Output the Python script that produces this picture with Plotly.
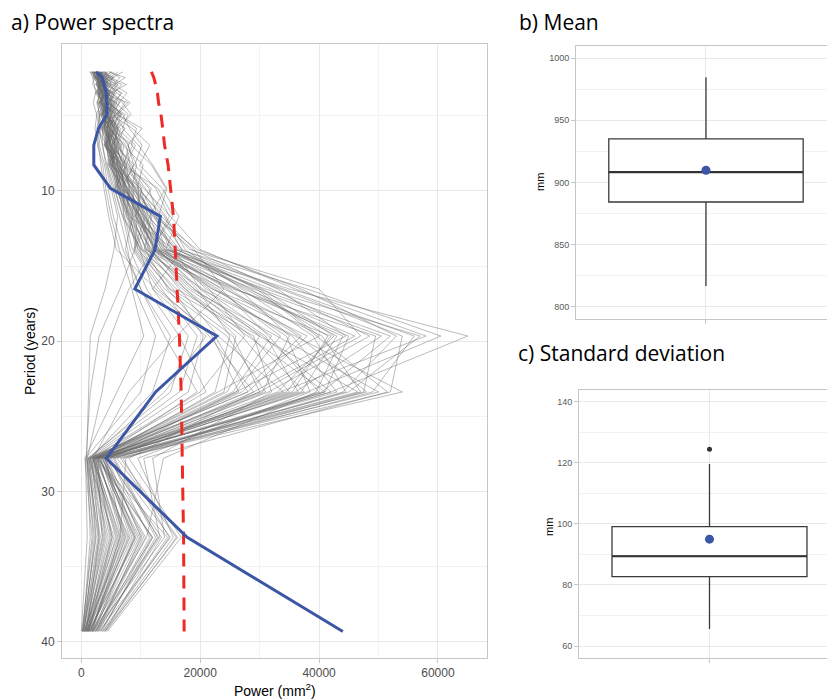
import plotly.graph_objects as go

# ---------------- data ----------------
periods = [2.07, 2.46, 2.92, 3.48, 4.13, 4.91, 5.84, 6.95, 8.27, 9.83,
           11.69, 13.9, 16.53, 19.66, 23.38, 27.8, 33.06, 39.32]

# observed global power spectrum (mm^2)
observed_power = [2500, 3500, 3800, 4200, 4300, 4300, 2900, 2100, 2100, 4900,
                  13300, 12400, 9000, 22800, 12500, 4200, 17800, 44000]

# significance level (mm^2)
signif_power = [11800, 12200, 12500, 12800, 13000, 13400, 13700, 14000, 14600, 15000,
                15500, 15800, 16100, 16500, 16800, 17000, 17200, 17300]

# ensemble spectra, values in thousands of mm^2
ensemble_k = [
    [2.2, 3.1, 4.0, 3.5, 5.2, 4.1, 6.0, 5.5, 7.2, 8.0, 10.5, 14.0, 35.0, 65.0, 42.0, 3.2, 9.5, 1.2],
    [3.5, 2.8, 3.9, 4.8, 3.6, 5.5, 4.9, 6.8, 6.1, 9.2, 12.0, 16.5, 38.0, 60.5, 38.0, 2.5, 12.0, 2.1],
    [1.8, 2.5, 3.0, 2.7, 4.4, 3.8, 5.1, 4.2, 6.5, 7.4, 9.8, 13.2, 31.0, 57.0, 45.0, 4.1, 7.0, 0.8],
    [4.2, 3.6, 5.0, 4.1, 3.3, 6.2, 5.4, 7.9, 8.8, 7.0, 11.4, 15.8, 33.5, 54.0, 52.0, 5.0, 15.0, 3.0],
    [2.9, 4.4, 3.2, 5.6, 4.7, 3.9, 6.6, 5.8, 7.0, 10.2, 9.1, 12.5, 29.0, 50.5, 36.0, 2.0, 6.0, 0.5],
    [3.1, 2.3, 4.6, 3.4, 5.9, 4.6, 3.8, 6.1, 5.3, 8.6, 13.0, 18.2, 40.0, 47.0, 30.0, 1.5, 4.5, 1.0],
    [2.0, 3.7, 2.6, 4.0, 3.1, 5.0, 4.4, 3.9, 6.7, 7.1, 8.5, 11.0, 26.0, 45.0, 41.0, 3.5, 10.5, 2.4],
    [5.1, 4.0, 3.4, 2.9, 4.8, 3.6, 5.7, 4.6, 5.0, 6.3, 10.1, 14.5, 30.5, 42.5, 33.0, 2.8, 3.5, 0.3],
    [2.6, 3.0, 4.9, 3.8, 2.9, 4.5, 3.7, 5.9, 4.8, 9.5, 11.8, 10.6, 24.0, 40.5, 47.0, 4.6, 13.0, 1.8],
    [3.8, 5.3, 3.5, 4.3, 6.0, 5.1, 4.2, 5.0, 7.6, 8.1, 7.5, 12.0, 22.0, 38.0, 28.0, 1.2, 5.5, 0.9],
    [2.4, 3.3, 2.8, 3.9, 4.5, 3.4, 4.8, 4.0, 5.6, 6.8, 9.0, 12.8, 20.0, 36.0, 54.0, 6.0, 16.0, 4.2],
    [3.0, 2.6, 3.7, 3.1, 4.0, 5.3, 4.1, 6.3, 5.1, 7.9, 10.4, 11.5, 18.5, 33.0, 50.0, 4.8, 11.5, 2.6],
    [1.6, 2.9, 3.3, 4.6, 3.5, 4.2, 5.5, 4.7, 6.9, 6.0, 8.2, 9.5, 16.0, 30.0, 46.5, 3.9, 8.5, 1.4],
    [4.5, 3.4, 4.1, 3.3, 5.4, 4.4, 3.6, 5.2, 6.2, 9.9, 12.6, 14.0, 21.0, 35.5, 43.0, 2.6, 14.5, 3.6],
    [2.7, 4.1, 3.0, 5.0, 3.9, 6.4, 5.0, 4.5, 5.7, 7.3, 9.6, 13.6, 23.5, 31.5, 40.0, 7.5, 6.5, 1.1],
    [3.3, 2.4, 4.4, 3.6, 4.3, 3.7, 4.6, 7.2, 6.4, 8.4, 10.9, 12.2, 19.0, 28.5, 37.5, 3.0, 9.8, 2.0],
    [2.1, 3.2, 2.5, 3.5, 5.0, 4.8, 6.2, 5.4, 4.7, 5.8, 7.8, 10.4, 17.0, 27.0, 35.0, 2.2, 4.0, 0.6],
    [3.9, 4.6, 3.8, 2.8, 3.8, 5.7, 4.3, 4.9, 7.9, 10.8, 14.2, 17.5, 27.0, 39.0, 44.5, 5.4, 12.5, 3.3],
    [2.8, 3.5, 4.3, 3.7, 3.0, 4.0, 5.3, 4.3, 5.4, 6.6, 8.8, 11.7, 17.5, 26.0, 24.0, 1.8, 3.0, 0.4],
    [1.9, 2.7, 3.6, 4.4, 4.9, 3.3, 4.0, 5.6, 6.0, 7.7, 9.4, 9.0, 14.0, 24.5, 31.0, 3.3, 7.5, 1.6],
    [3.6, 3.0, 2.7, 3.2, 4.2, 4.9, 3.5, 4.1, 4.9, 6.1, 7.2, 8.6, 13.0, 22.0, 26.5, 2.4, 5.2, 1.3],
    [2.5, 3.9, 3.1, 4.2, 3.4, 4.3, 5.8, 5.1, 4.4, 5.5, 6.9, 10.0, 15.5, 20.5, 18.0, 1.4, 2.5, 0.2],
    [4.0, 2.2, 3.4, 2.6, 3.7, 4.7, 4.5, 3.8, 5.9, 8.9, 11.0, 13.0, 19.5, 25.0, 22.5, 2.9, 6.8, 1.9],
    [2.3, 3.4, 4.7, 3.0, 4.1, 3.5, 4.9, 6.5, 7.4, 6.4, 8.0, 9.8, 12.0, 18.0, 15.0, 1.0, 2.0, 0.1],
    [3.2, 2.9, 3.3, 5.2, 4.6, 6.0, 4.7, 5.3, 5.5, 7.5, 10.0, 11.2, 16.5, 23.0, 34.0, 4.4, 10.0, 2.8],
    [2.0, 2.6, 2.9, 3.6, 3.2, 3.9, 4.1, 4.8, 6.6, 5.6, 7.0, 8.2, 11.0, 16.5, 21.0, 1.7, 4.8, 0.7],
    [2.6, 3.8, 4.5, 5.9, 4.4, 7.0, 8.1, 10.2, 9.0, 12.5, 14.8, 12.0, 8.0, 5.0, 3.5, 1.0, 1.5, 0.3],
    [3.4, 4.8, 6.2, 5.1, 7.3, 6.0, 9.3, 8.4, 11.8, 14.2, 11.5, 9.0, 6.5, 3.0, 1.5, 0.8, 2.2, 0.5],
    [2.2, 2.0, 3.0, 3.4, 2.6, 3.1, 2.9, 3.6, 4.1, 5.0, 6.1, 5.5, 4.0, 1.5, 1.2, 0.9, 3.0, 0.9],
    [4.8, 6.5, 5.4, 7.7, 6.3, 5.5, 7.2, 6.0, 8.5, 9.7, 13.5, 19.0, 24.0, 16.0, 8.0, 2.0, 4.2, 1.0],
    [2.9, 3.1, 2.4, 3.8, 4.2, 3.2, 4.4, 5.7, 5.2, 6.9, 8.7, 10.8, 14.5, 21.5, 29.0, 8.0, 16.8, 4.4],
    [3.7, 2.5, 3.5, 2.9, 3.6, 4.1, 3.9, 4.4, 6.3, 7.6, 9.3, 12.4, 22.5, 34.5, 38.5, 9.5, 15.5, 3.9],
    [1.7, 2.3, 3.2, 4.0, 5.5, 4.5, 5.6, 4.0, 5.8, 6.2, 7.9, 9.2, 15.0, 29.0, 32.0, 12.0, 14.0, 2.3],
    [3.0, 4.3, 3.9, 3.1, 2.7, 3.7, 4.6, 6.0, 4.6, 7.0, 10.7, 13.8, 26.0, 44.0, 39.5, 13.8, 11.0, 1.7],
    [2.4, 2.8, 4.1, 4.5, 3.8, 5.2, 3.7, 4.6, 5.8, 8.3, 9.7, 12.9, 25.0, 37.0, 27.0, 2.3, 8.0, 1.5],
    [3.3, 3.7, 2.8, 3.5, 4.4, 3.5, 5.1, 5.7, 7.1, 9.0, 12.3, 15.0, 28.5, 41.5, 35.5, 3.6, 9.0, 2.2],
    [2.1, 2.9, 3.4, 4.9, 3.7, 4.4, 3.4, 4.5, 5.6, 6.5, 8.4, 10.2, 20.5, 32.0, 25.5, 1.9, 6.2, 1.2],
    [4.3, 3.3, 3.6, 4.0, 4.8, 6.6, 5.2, 6.4, 5.9, 7.8, 10.3, 14.8, 32.0, 48.5, 31.5, 2.7, 7.2, 0.9],
    [2.5, 4.0, 3.1, 2.8, 3.5, 4.0, 4.7, 4.2, 6.0, 6.7, 9.2, 11.4, 18.0, 30.5, 42.0, 3.4, 10.8, 2.5],
    [3.0, 2.7, 3.8, 4.3, 4.0, 3.4, 4.3, 5.0, 5.3, 7.2, 9.5, 12.6, 21.5, 27.5, 20.0, 1.6, 3.8, 0.8],
    [1.9, 3.5, 2.9, 3.3, 4.6, 4.2, 3.9, 4.8, 6.8, 8.2, 11.6, 13.4, 24.5, 36.5, 48.0, 4.2, 9.2, 1.4],
    [3.6, 3.1, 4.5, 3.9, 3.3, 4.8, 6.1, 5.5, 6.3, 9.1, 10.6, 16.0, 30.0, 52.0, 40.5, 3.1, 8.8, 2.0],
    [2.7, 2.5, 3.3, 4.7, 4.1, 3.6, 4.8, 4.1, 5.0, 6.0, 7.6, 9.6, 14.8, 25.5, 30.0, 2.0, 5.8, 1.1],
    [4.1, 4.9, 4.0, 3.4, 5.7, 5.0, 4.4, 7.5, 8.2, 11.4, 12.8, 15.2, 27.5, 43.0, 37.0, 3.8, 11.8, 2.9],
    [2.3, 3.6, 2.7, 3.9, 3.2, 4.6, 5.0, 4.4, 5.2, 6.4, 8.3, 11.0, 19.0, 31.0, 36.5, 2.5, 7.8, 1.7],
    [3.1, 4.2, 5.1, 6.6, 5.8, 7.9, 6.9, 9.6, 12.0, 14.4, 13.0, 17.0, 12.0, 21.0, 14.0, 1.3, 3.2, 0.6],
    [2.8, 2.1, 3.0, 2.5, 3.9, 2.8, 3.3, 3.0, 3.9, 4.5, 5.4, 7.0, 10.0, 14.0, 19.5, 2.8, 12.0, 3.5],
    [5.5, 4.5, 6.8, 5.5, 4.9, 6.7, 5.9, 8.0, 7.2, 10.5, 15.0, 20.0, 36.0, 58.0, 33.5, 4.5, 13.5, 4.0],
    [2.0, 2.4, 2.6, 3.0, 2.8, 3.0, 3.6, 3.5, 4.3, 5.3, 6.5, 7.8, 9.0, 12.5, 10.0, 0.7, 1.0, 0.0],
    [3.5, 3.0, 3.9, 4.1, 5.1, 4.3, 5.4, 4.7, 6.1, 7.4, 9.9, 12.1, 23.0, 33.5, 26.0, 2.1, 6.6, 1.3],
    [6.2, 4.8, 7.6, 5.0, 6.9, 8.4, 6.0, 9.1, 7.5, 11.8, 9.0, 14.5, 28.0, 46.0, 29.0, 3.0, 9.0, 1.9],
    [1.5, 1.9, 2.2, 2.4, 2.0, 2.6, 2.3, 2.9, 3.3, 3.8, 4.6, 5.9, 12.5, 22.5, 28.0, 1.1, 2.8, 0.4],
    [4.6, 7.4, 5.6, 4.4, 6.5, 4.9, 8.6, 11.5, 9.8, 13.6, 16.4, 14.2, 30.0, 40.0, 23.0, 2.4, 5.0, 1.2],
    [2.3, 3.9, 5.8, 4.2, 3.0, 5.9, 3.2, 5.6, 8.9, 6.6, 12.2, 19.5, 37.0, 53.0, 44.0, 5.6, 12.8, 3.2],
    [3.8, 2.8, 4.0, 6.9, 5.3, 3.5, 7.4, 4.9, 6.7, 8.8, 8.6, 7.4, 10.0, 15.0, 12.0, 1.5, 3.6, 0.7],
    [2.9, 5.6, 3.4, 3.6, 7.8, 5.8, 4.6, 8.7, 6.9, 12.9, 15.4, 11.8, 25.5, 49.5, 47.5, 6.6, 16.2, 4.0],
    [1.4, 2.2, 1.9, 2.8, 3.4, 2.5, 3.1, 2.7, 3.6, 4.1, 5.0, 6.4, 8.5, 10.5, 6.0, 0.6, 1.8, 0.2],
    [5.0, 3.7, 6.1, 4.7, 4.2, 7.4, 5.7, 7.0, 10.4, 9.4, 14.0, 16.8, 34.0, 56.0, 49.0, 7.0, 14.8, 3.7],
    [2.6, 4.7, 2.9, 5.4, 3.9, 4.0, 6.3, 5.2, 5.5, 7.7, 10.8, 8.8, 13.5, 19.5, 16.5, 1.2, 2.4, 0.3],
    [3.4, 2.6, 5.3, 3.2, 4.5, 6.8, 4.0, 6.7, 5.0, 10.0, 11.2, 16.2, 29.5, 39.5, 51.5, 10.5, 13.2, 2.7],
    [2.1, 3.3, 3.7, 4.9, 2.9, 3.8, 5.9, 3.9, 7.7, 5.7, 9.9, 13.1, 22.0, 42.0, 34.5, 2.6, 7.4, 1.5],
    [7.0, 5.2, 4.8, 6.0, 8.2, 6.1, 10.2, 7.8, 9.3, 8.5, 12.4, 18.6, 33.0, 44.5, 26.0, 3.9, 10.2, 2.4],
    [1.8, 2.4, 3.6, 2.3, 3.6, 3.2, 2.6, 4.3, 4.6, 7.2, 7.1, 10.1, 17.5, 28.0, 41.0, 3.7, 8.2, 1.0],
    [3.9, 4.4, 2.9, 4.5, 5.6, 4.4, 5.6, 6.2, 8.0, 9.6, 9.6, 12.3, 26.5, 35.0, 30.5, 2.2, 6.4, 1.8],
    [2.5, 3.0, 4.2, 3.3, 4.3, 5.6, 3.9, 5.0, 5.2, 6.3, 8.1, 15.6, 20.0, 30.0, 24.5, 1.9, 5.2, 0.6],
]

# box-plot statistics: mean (mm)
mean_stats = dict(lower=816.6, q1=884.2, median=908.3, q3=934.9, upper=984.5, mean=909.7)
mean_outliers = []
# box-plot statistics: standard deviation (mm)
sd_stats = dict(lower=65.6, q1=82.7, median=89.4, q3=99.1, upper=119.6, mean=95.0)
sd_outliers = [124.4]

# ---------------- style ----------------
W, H = 827, 700
GRID = "#e8e8e8"
MINOR = "#f2f2f2"
BORDER = "#c6c6c6"
TICKC = "#4d4d4d"
BLUE = "#3c56a6"
RED = "#ee2a24"
AXFONT = "Liberation Sans"
TITLEFONT = "Open Sans"

fig = go.Figure()

# ---------------- panel a ----------------
for row in ensemble_k:
    fig.add_trace(go.Scatter(
        x=[v * 1000 for v in row], y=periods, mode="lines",
        line=dict(color="rgba(105,105,105,0.45)", width=1),
        xaxis="x", yaxis="y", showlegend=False, hoverinfo="skip"))

fig.add_trace(go.Scatter(
    x=signif_power, y=periods, mode="lines",
    line=dict(color=RED, width=3, dash="13px,9px"),
    xaxis="x", yaxis="y", showlegend=False))

fig.add_trace(go.Scatter(
    x=observed_power, y=periods, mode="lines",
    line=dict(color=BLUE, width=3),
    xaxis="x", yaxis="y", showlegend=False))

# ---------------- box panels ----------------
def add_box(stats, outliers, xa, ya):
    fig.add_trace(go.Box(
        x=[1], q1=[stats["q1"]], median=[stats["median"]], q3=[stats["q3"]],
        lowerfence=[stats["lower"]], upperfence=[stats["upper"]],
        width=0.75, whiskerwidth=0, fillcolor="white",
        line=dict(color="#3a3a3a", width=1.3),
        xaxis=xa, yaxis=ya, showlegend=False, boxpoints=False))
    # thicker median line (ggplot style)
    fig.add_trace(go.Scatter(
        x=[1 - 0.375, 1 + 0.375], y=[stats["median"]] * 2, mode="lines",
        line=dict(color="#333333", width=2.2),
        xaxis=xa, yaxis=ya, showlegend=False))
    if outliers:
        fig.add_trace(go.Scatter(
            x=[1] * len(outliers), y=outliers, mode="markers",
            marker=dict(color="#333333", size=5),
            xaxis=xa, yaxis=ya, showlegend=False))
    fig.add_trace(go.Scatter(
        x=[1], y=[stats["mean"]], mode="markers",
        marker=dict(color=BLUE, size=9),
        xaxis=xa, yaxis=ya, showlegend=False))

add_box(mean_stats, mean_outliers, "x2", "y2")
add_box(sd_stats, sd_outliers, "x3", "y3")

common = dict(showline=True, mirror=True, linecolor=BORDER, linewidth=1,
              ticks="outside", ticklen=4, tickcolor=BORDER, zeroline=False,
              showgrid=True, gridcolor=GRID, gridwidth=1)

def px_x(p):
    return p / W

def px_y(p):
    return 1 - p / H

fig.update_layout(
    width=W, height=H, margin=dict(l=0, r=0, t=0, b=0),
    paper_bgcolor="white", plot_bgcolor="white",
    xaxis=dict(domain=[px_x(62), px_x(487)], range=[-3250, 68250],
               tickmode="array", tickvals=[0, 20000, 40000, 60000], tickformat="d",
               tickfont=dict(family=AXFONT, size=12, color=TICKC),
               minor=dict(tickmode="array", tickvals=[10000, 30000, 50000],
                          showgrid=True, gridcolor=MINOR, ticks=""),
               anchor="y", **common),
    yaxis=dict(domain=[px_y(658), px_y(44)], range=[41.09, 0.22],
               tickmode="array", tickvals=[10, 20, 30, 40],
               tickfont=dict(family=AXFONT, size=12, color=TICKC),
               minor=dict(tickmode="array", tickvals=[5, 15, 25, 35],
                          showgrid=True, gridcolor=MINOR, ticks=""),
               anchor="x", **common),
    xaxis2=dict(domain=[px_x(576), 1.0], range=[0.4985, 1.467],
                tickmode="array", tickvals=[1], ticktext=[""],
                anchor="y2", **common),
    yaxis2=dict(domain=[px_y(319), px_y(45.7)], range=[790.1, 1009.9],
                tickmode="array", tickvals=[800, 850, 900, 950, 1000],
                tickfont=dict(family=AXFONT, size=9, color="#5a5a5a"),
                minor=dict(tickmode="array", tickvals=[825, 875, 925, 975],
                           showgrid=True, gridcolor=MINOR, ticks=""),
                anchor="x2", **common),
    xaxis3=dict(domain=[px_x(579), 1.0], range=[0.498, 1.452],
                tickmode="array", tickvals=[1], ticktext=[""],
                anchor="y3", **common),
    yaxis3=dict(domain=[px_y(657.7), px_y(390)], range=[56.2, 143.8],
                tickmode="array", tickvals=[60, 80, 100, 120, 140],
                tickfont=dict(family=AXFONT, size=9, color="#5a5a5a"),
                minor=dict(tickmode="array", tickvals=[70, 90, 110, 130],
                           showgrid=True, gridcolor=MINOR, ticks=""),
                anchor="x3", **common),
)

ann = [
    dict(text="a) Power spectra", x=px_x(9), y=px_y(22), xanchor="left", yanchor="middle",
         font=dict(family=TITLEFONT, size=21, color="black")),
    dict(text="b) Mean", x=px_x(517), y=px_y(22), xanchor="left", yanchor="middle",
         font=dict(family=TITLEFONT, size=21, color="black")),
    dict(text="c) Standard deviation", x=px_x(516), y=px_y(353), xanchor="left", yanchor="middle",
         font=dict(family=TITLEFONT, size=21, color="black")),
    dict(text="Power (mm<sup>2</sup>)", x=px_x(274.5), y=px_y(690), xanchor="center", yanchor="middle",
         font=dict(family=AXFONT, size=14, color="black")),
    dict(text="Period (years)", x=px_x(30), y=px_y(351), xanchor="center", yanchor="middle",
         textangle=-90, font=dict(family=AXFONT, size=14, color="black")),
    dict(text="mm", x=px_x(540), y=px_y(182), xanchor="center", yanchor="middle",
         textangle=-90, font=dict(family=AXFONT, size=11, color="black")),
    dict(text="mm", x=px_x(549), y=px_y(527), xanchor="center", yanchor="middle",
         textangle=-90, font=dict(family=AXFONT, size=11, color="black")),
]
for a in ann:
    a.update(xref="paper", yref="paper", showarrow=False)
fig.update_layout(annotations=ann)

fig.write_html("out.html")
